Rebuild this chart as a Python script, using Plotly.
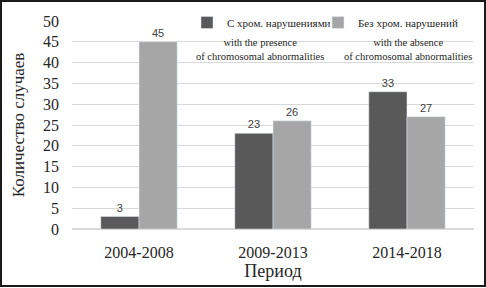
import plotly.graph_objects as go

periods = ["2004-2008", "2009-2013", "2014-2018"]
with_abn = [3, 23, 33]
without_abn = [45, 26, 27]
series_names = ["С хром. нарушениями", "Без хром. нарушений"]
series_notes = ["with the presence<br>of chromosomal abnormalities",
                "with the absence<br>of chromosomal abnormalities"]
y_ticks = [0, 5, 10, 15, 20, 25, 30, 35, 40, 45, 50]

SERIF = "Liberation Serif, Times New Roman, serif"
SANS = "Liberation Sans, Arial, sans-serif"
DARK = "#595959"
LIGHT = "#a6a6a6"

fig = go.Figure()
fig.add_trace(go.Bar(x=periods, y=with_abn, name=series_names[0], marker_color=DARK,
                     text=with_abn, textposition="outside", cliponaxis=False, legend="legend",
                     textfont=dict(family=SANS, size=11, color="#404040")))
fig.add_trace(go.Bar(x=periods, y=without_abn, name=series_names[1], marker_color=LIGHT,
                     text=without_abn, textposition="outside", cliponaxis=False, legend="legend2",
                     textfont=dict(family=SANS, size=11, color="#404040")))

W, H = 486, 288
L, R, T, B = 72, 12, 21, 59
pw, ph = W - L - R, H - T - B

def px2x(px):
    return (px - L) / pw

def py2y(py):
    return (H - B - py) / ph

legend_style = dict(orientation="h", xanchor="left", yanchor="top",
                    font=dict(family=SERIF, size=11, color="#262626"),
                    itemwidth=30, bgcolor="rgba(0,0,0,0)")

fig.update_layout(
    width=W, height=H,
    margin=dict(l=L, r=R, t=T, b=B, autoexpand=False),
    paper_bgcolor="white", plot_bgcolor="white",
    barmode="group", bargap=0.43, bargroupgap=0,
    showlegend=True,
    legend=dict(x=px2x(187), y=py2y(8), **legend_style),
    legend2=dict(x=px2x(318), y=py2y(8), **legend_style),
    xaxis=dict(tickfont=dict(family=SERIF, size=16, color="#262626"), automargin=False,
               ticklabelstandoff=12,
               title=dict(text="Период", font=dict(family=SERIF, size=18, color="#262626"), standoff=2),
               showline=False, ticks=""),
    yaxis=dict(range=[0, 50], tickvals=y_ticks, showgrid=True, gridcolor="#d9d9d9", gridwidth=1,
               zeroline=True, zerolinecolor="#d9d9d9", automargin=False,
               tickfont=dict(family=SERIF, size=16, color="#262626"),
               ticklabelstandoff=12,
               title=dict(text="Количество случаев", font=dict(family=SERIF, size=17, color="#262626"),
                          standoff=14)),
)

fig.add_annotation(x=px2x(260), y=py2y(50), xref="paper", yref="paper", text=series_notes[0],
                   showarrow=False, font=dict(family=SERIF, size=10.5, color="#262626"),
                   xanchor="center", yanchor="middle", align="center")
fig.add_annotation(x=px2x(408), y=py2y(50), xref="paper", yref="paper", text=series_notes[1],
                   showarrow=False, font=dict(family=SERIF, size=10.5, color="#262626"),
                   xanchor="center", yanchor="middle", align="center")

fig.add_shape(type="rect", xref="paper", yref="paper",
              x0=px2x(1), x1=px2x(485), y0=py2y(286), y1=py2y(1),
              line=dict(color="#1a1a1a", width=2), fillcolor="rgba(0,0,0,0)", layer="above")

fig.write_html("out.html", config={"displayModeBar": False},
               post_script="document.body.style.margin='0';")
